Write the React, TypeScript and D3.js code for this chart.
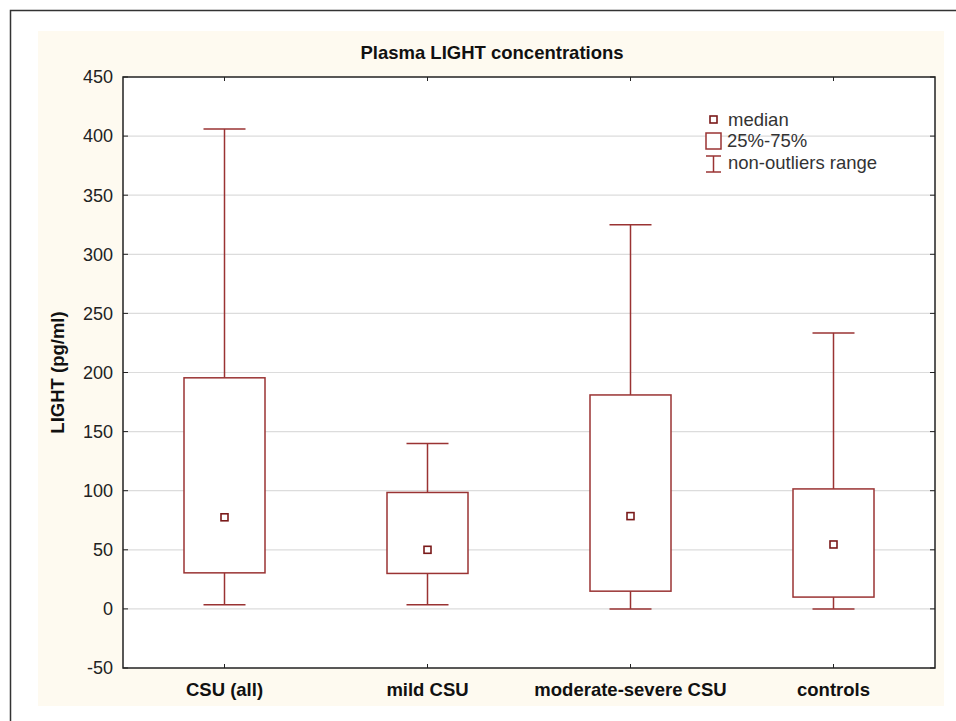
import React from 'react';
import * as d3 from 'd3';

// values (pg/ml)
const categories = ['CSU (all)', 'mild CSU', 'moderate-severe CSU', 'controls'];
const whiskerLow = [3.5, 3.5, 0, 0];
const q1 = [30.5, 30, 15, 10];
const medians = [77.5, 50, 78.5, 54.5];
const q3 = [195.5, 98.5, 181, 101.5];
const whiskerHigh = [406, 140, 325, 233.5];
const yTicks = [-50, 0, 50, 100, 150, 200, 250, 300, 350, 400, 450];

const boxColor = '#9a3333';
const font = '"Liberation Sans", Arial, sans-serif';

const App = () => {
  const margin = { left: 123, right: 935, top: 77, bottom: 668 };

  const x = d3.scaleBand()
    .domain(categories)
    .range([margin.left, margin.right])
    .padding(0);

  const y = d3.scaleLinear()
    .domain([-50, 450])
    .range([margin.bottom, margin.top]);

  const boxW = 81;
  const capW = 42;

  const rows = categories.map((c, i) => ({
    name: c,
    lo: whiskerLow[i],
    q1: q1[i],
    med: medians[i],
    q3: q3[i],
    hi: whiskerHigh[i],
  }));

  return (
    <svg width={956} height={721} style={{ position: 'absolute', left: 0, top: 0 }} fontFamily={font}>
      <rect x={0} y={0} width={956} height={721} fill="#fff" />
      {/* outer frame, runs off the right and bottom */}
      <path d="M10.5,730 V10.5 H970" fill="none" stroke="#333" strokeWidth={1.5} />
      {/* panel */}
      <rect x={38} y={31} width={906} height={675} fill="#fefaf0" />
      <rect x={margin.left} y={margin.top} width={margin.right - margin.left} height={margin.bottom - margin.top} fill="#fff" />

      <text x={492} y={58.5} textAnchor="middle" fontSize={18.5} fontWeight="bold" fill="#111">
        Plasma LIGHT concentrations
      </text>

      {/* gridlines */}
      {yTicks.slice(1, -1).map(t => (
        <line key={t} x1={margin.left} x2={margin.right} y1={y(t)} y2={y(t)} stroke="#dcdcdc" strokeWidth={1.2} />
      ))}

      {/* y ticks + labels */}
      {yTicks.map(t => (
        <g key={t}>
          <line x1={margin.left} x2={margin.left + 5} y1={y(t)} y2={y(t)} stroke="#222" />
          <line x1={margin.right - 5} x2={margin.right} y1={y(t)} y2={y(t)} stroke="#222" />
          <text x={113} y={y(t)} dy="0.35em" textAnchor="end" fontSize={18} fill="#222">{t}</text>
        </g>
      ))}

      {/* x ticks + labels */}
      {categories.map(c => {
        const cx = x(c) + x.bandwidth() / 2;
        return (
          <g key={c}>
            <line x1={cx} x2={cx} y1={margin.top} y2={margin.top + 4} stroke="#222" />
            <line x1={cx} x2={cx} y1={margin.bottom - 4} y2={margin.bottom} stroke="#222" />
            <text x={cx} y={695.5} textAnchor="middle" fontSize={18.5} fontWeight="bold" fill="#111">{c}</text>
          </g>
        );
      })}

      <text transform={`translate(64,${(margin.top + margin.bottom) / 2}) rotate(-90)`} textAnchor="middle"
        fontSize={18.5} fontWeight="bold" fill="#111">LIGHT (pg/ml)</text>

      {/* boxes */}
      {rows.map(d => {
        const cx = x(d.name) + x.bandwidth() / 2;
        return (
          <g key={d.name} stroke={boxColor} strokeWidth={1.5} fill="none">
            <line x1={cx} x2={cx} y1={y(d.hi)} y2={y(d.q3)} />
            <line x1={cx} x2={cx} y1={y(d.q1)} y2={y(d.lo)} />
            <line x1={cx - capW / 2} x2={cx + capW / 2} y1={y(d.hi)} y2={y(d.hi)} />
            <line x1={cx - capW / 2} x2={cx + capW / 2} y1={y(d.lo)} y2={y(d.lo)} />
            <rect x={cx - boxW / 2} y={y(d.q3)} width={boxW} height={y(d.q1) - y(d.q3)} fill="#fff" />
            <rect x={cx - 3.5} y={y(d.med) - 3.5} width={7} height={7} stroke="#7a1a1a" strokeWidth={1.6} fill="#fff" />
          </g>
        );
      })}

      {/* frame on top */}
      <rect x={margin.left} y={margin.top} width={margin.right - margin.left} height={margin.bottom - margin.top}
        fill="none" stroke="#222" strokeWidth={1.5} />

      {/* legend */}
      <g fontSize={18.5} fill="#333">
        <rect x={710} y={116} width={7} height={7} fill="#fff" stroke="#7a1a1a" strokeWidth={1.6} />
        <text x={728} y={119.5} dy="0.35em">median</text>
        <rect x={706} y={133} width={15} height={16} fill="#fff" stroke={boxColor} strokeWidth={1.5} />
        <text x={727} y={141} dy="0.35em">25%-75%</text>
        <g stroke={boxColor} strokeWidth={1.5}>
          <line x1={713.5} x2={713.5} y1={156} y2={172} />
          <line x1={706} x2={721} y1={156} y2={156} />
          <line x1={706} x2={721} y1={172} y2={172} />
        </g>
        <text x={728} y={163} dy="0.35em">non-outliers range</text>
      </g>
    </svg>
  );
};

export default App;
